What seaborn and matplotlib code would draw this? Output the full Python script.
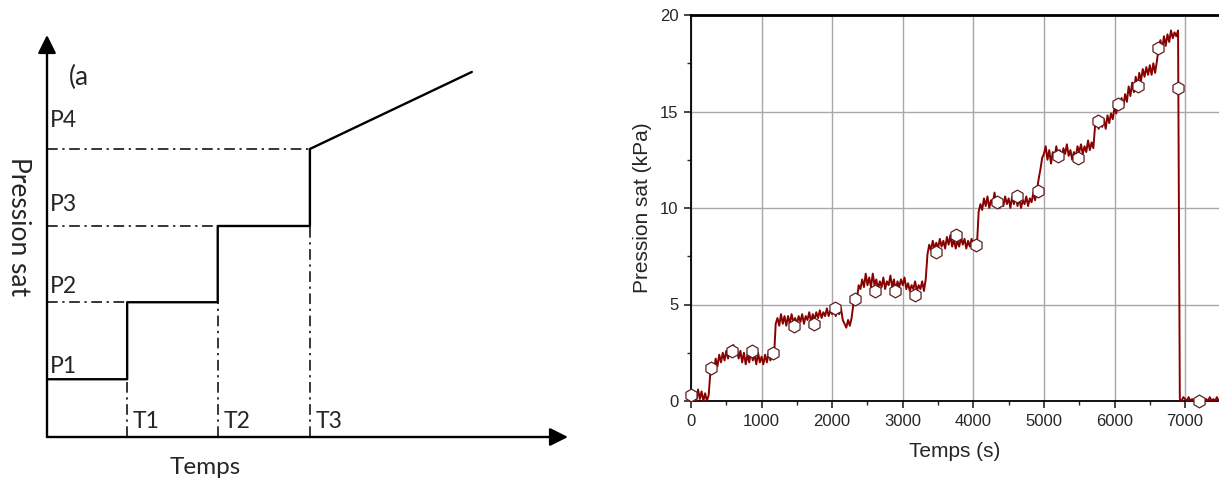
import numpy as np
import pandas as pd
import matplotlib
matplotlib.use('Agg')
import matplotlib.pyplot as plt
from matplotlib.ticker import MultipleLocator
import seaborn as sns

# schematic (left) : step times and pressure levels, arbitrary units
step_t = [1.0, 2.13, 3.28]
step_p = [0.75, 1.75, 2.74, 3.74]
ramp_end = (5.3, 4.74)
p_labels = ['P1', 'P2', 'P3', 'P4']
p_label_y = [0.83, 1.87, 2.94, 4.02]
t_labels = ['T1', 'T2', 'T3']

# measured trace (right) : one value every 25 s from 0 s
dt = 25
pression = [
    0.5, 0.1, 0.4, 0.0, 0.6, 0.1, 0.5, 0.0, 0.4, 0.0, 0.3, 1.5, 1.9, 1.6, 2.2, 1.8, 2.4, 2.0, 2.5, 2.1,
    2.6, 2.2, 2.8, 2.3, 2.9, 2.4, 2.7, 2.2, 2.6, 2.0, 2.5, 1.9, 2.4, 2.0, 2.6, 2.1, 2.4, 1.9, 2.5, 2.0,
    2.3, 1.9, 2.4, 2.0, 2.5, 2.1, 2.4, 2.2, 4.0, 4.3, 3.9, 4.5, 4.0, 4.4, 3.9, 4.4, 4.0, 4.5, 4.1, 4.3,
    4.0, 4.4, 4.1, 4.5, 4.0, 4.4, 4.2, 4.6, 4.1, 4.5, 4.2, 4.6, 4.3, 4.7, 4.3, 4.6, 4.4, 4.8, 4.4, 4.7,
    4.5, 4.8, 4.4, 4.7, 4.5, 4.8, 4.2, 4.0, 3.8, 4.2, 3.9, 4.3, 5.0, 5.4, 5.2, 6.0, 5.8, 6.3, 5.9, 6.6,
    6.0, 6.4, 5.9, 6.6, 6.0, 6.3, 5.8, 6.2, 5.9, 6.4, 5.8, 6.2, 6.0, 6.5, 5.9, 6.3, 5.7, 6.2, 5.9, 6.3,
    6.0, 6.4, 5.8, 6.1, 5.7, 6.0, 5.8, 6.2, 5.7, 6.0, 5.8, 6.2, 5.7, 6.3, 7.6, 8.1, 7.8, 8.3, 7.9, 8.2,
    7.9, 8.4, 8.0, 8.3, 7.9, 8.5, 8.1, 8.6, 8.0, 8.4, 7.9, 8.3, 8.0, 8.5, 8.1, 8.4, 7.9, 8.3, 8.0, 8.4,
    8.1, 8.3, 8.0, 9.8, 10.2, 9.9, 10.5, 10.1, 10.6, 10.0, 10.4, 10.2, 10.8, 10.1, 10.5, 10.0, 10.4, 10.1, 10.6, 10.2,
    10.5, 10.0, 10.6, 10.2, 10.7, 10.1, 10.5, 10.0, 10.4, 10.2, 10.6, 10.1, 10.5, 10.3, 10.8, 10.4, 10.9, 11.5, 12.0, 12.6,
    12.8, 13.2, 12.5, 13.0, 12.3, 12.9, 12.6, 13.2, 12.7, 13.0, 12.5, 13.1, 12.8, 13.3, 12.7, 13.0, 12.5, 12.9, 12.6, 13.2,
    12.9, 13.3, 12.8, 13.2, 12.9, 13.5, 13.0, 13.4, 13.1, 14.3, 14.6, 14.1, 14.7, 14.2, 14.6, 14.1, 14.8, 14.4, 14.9, 14.6,
    15.2, 14.9, 15.5, 15.1, 15.7, 15.3, 15.9, 15.5, 16.3, 15.8, 16.5, 16.0, 16.8, 16.3, 17.0, 16.6, 17.2, 16.8, 17.3, 16.9,
    17.4, 16.9, 17.5, 17.0, 17.6, 18.3, 18.7, 18.2, 18.9, 18.4, 19.0, 18.6, 19.2, 18.8, 19.1, 18.9, 19.2, 0.1, 0.0, 0.2,
    0.1, 0.0, 0.2, 0.0, 0.1, 0.0, 0.0, 0.2, 0.0, 0.1, 0.0, 0.0, 0.1, 0.0, 0.2, 0.0, 0.1, 0.0, 0.2, 0.0,
]
temps = np.arange(len(pression)) * dt

# hexagon symbols drawn by the acquisition software
mark_t = [0, 287, 578, 865, 1162, 1459, 1746, 2038, 2324, 2611, 2892, 3178, 3470,
          3757, 4043, 4335, 4622, 4914, 5200, 5476, 5762, 6043, 6330, 6611, 6903, 7200]
mark_p = [0.3, 1.7, 2.6, 2.6, 2.5, 3.9, 4.0, 4.8, 5.3, 5.7, 5.7, 5.5, 7.7,
          8.6, 8.1, 10.3, 10.6, 10.9, 12.7, 12.6, 14.5, 15.4, 16.3, 18.3, 16.2, 0.0]

sns.set_style('white')
plt.rcParams['font.family'] = ['Lato', 'DejaVu Sans']

fig = plt.figure(figsize=(12.19, 4.84), dpi=100)

# ---------------- left : principle sketch ----------------
ax1 = fig.add_axes([47/1219, 47/484, 521/1219, 402/484])
ax1.set_xlim(0, 6.5)
ax1.set_ylim(0, 5.22)
ax1.axis('off')

xs = [0]
ys = [step_p[0]]
for i, t in enumerate(step_t):
    xs += [t, t]
    ys += [step_p[i], step_p[i + 1]]
xs.append(ramp_end[0])
ys.append(ramp_end[1])
steps = pd.DataFrame({'t': xs, 'p': ys})
sns.lineplot(data=steps, x='t', y='p', sort=False, estimator=None,
             color='black', lw=1.7, ax=ax1)

dashdot = (0, (7, 3, 1.5, 3))
for i, t in enumerate(step_t):
    ax1.plot([0, t], [step_p[i + 1], step_p[i + 1]], color='black', lw=1.1, ls=dashdot)
    ax1.plot([t, t], [0, step_p[i]], color='black', lw=1.1, ls=dashdot)
    ax1.text(t + 0.07, 0.12, t_labels[i], fontsize=16.5, va='baseline', ha='left')
for lab, y in zip(p_labels, p_label_y):
    ax1.text(0.04, y, lab, fontsize=16.5, va='baseline', ha='left')

arrow = dict(arrowstyle='-|>,head_length=1.1,head_width=0.55', color='black',
             lw=1.7, mutation_scale=10, shrinkA=0, shrinkB=0)
ax1.annotate('', xy=(6.5, 0), xytext=(0, 0), arrowprops=arrow)
ax1.annotate('', xy=(0, 5.22), xytext=(0, 0), arrowprops=arrow)

ax1.text(0.27, 4.57, '(a', fontsize=19, va='baseline')
ax1.text(1.98, -0.48, 'Temps', fontsize=17.5, ha='center', va='baseline')
ax1.text(-0.35, 2.73, 'Pression sat', fontsize=19, rotation=270,
         ha='center', va='center')

# ---------------- right : measured pressure ----------------
ax2 = fig.add_axes([691/1219, 83/484, 528/1219, 386/484])
df = pd.DataFrame({'Temps': temps, 'Pression': pression})
sns.lineplot(data=df, x='Temps', y='Pression', color='#880000', lw=1.4,
             estimator=None, ax=ax2, zorder=3)
marks = pd.DataFrame({'Temps': mark_t, 'Pression': mark_p})
sns.scatterplot(data=marks, x='Temps', y='Pression', marker='h', s=85,
                facecolor='white', edgecolor='#5a2020', linewidth=0.9,
                ax=ax2, zorder=4, clip_on=False)

ax2.set_xlim(0, 7480)
ax2.set_ylim(0, 20)
ax2.xaxis.set_major_locator(MultipleLocator(1000))
ax2.xaxis.set_minor_locator(MultipleLocator(500))
ax2.yaxis.set_major_locator(MultipleLocator(5))
ax2.yaxis.set_minor_locator(MultipleLocator(2.5))
ax2.grid(True, which='major', color='#a8a8a8', lw=1.0)
ax2.tick_params(which='major', direction='out', length=5, width=1.2,
                labelsize=12, bottom=True, left=True, pad=4)
ax2.tick_params(which='minor', direction='out', length=3, width=1.0,
                bottom=True, left=True)
for lbl in ax2.get_xticklabels() + ax2.get_yticklabels():
    lbl.set_family('Liberation Sans')
ax2.spines['right'].set_visible(False)
ax2.spines['top'].set_linewidth(2.0)
ax2.spines['left'].set_linewidth(1.3)
ax2.spines['bottom'].set_linewidth(1.3)
for s in ax2.spines.values():
    s.set_color('black')
ax2.set_xlabel('Temps (s)', fontsize=15, family='Liberation Sans', labelpad=10)
ax2.set_ylabel('Pression sat (kPa)', fontsize=15, family='Liberation Sans', labelpad=6)

fig.savefig('out.png', dpi=100)
